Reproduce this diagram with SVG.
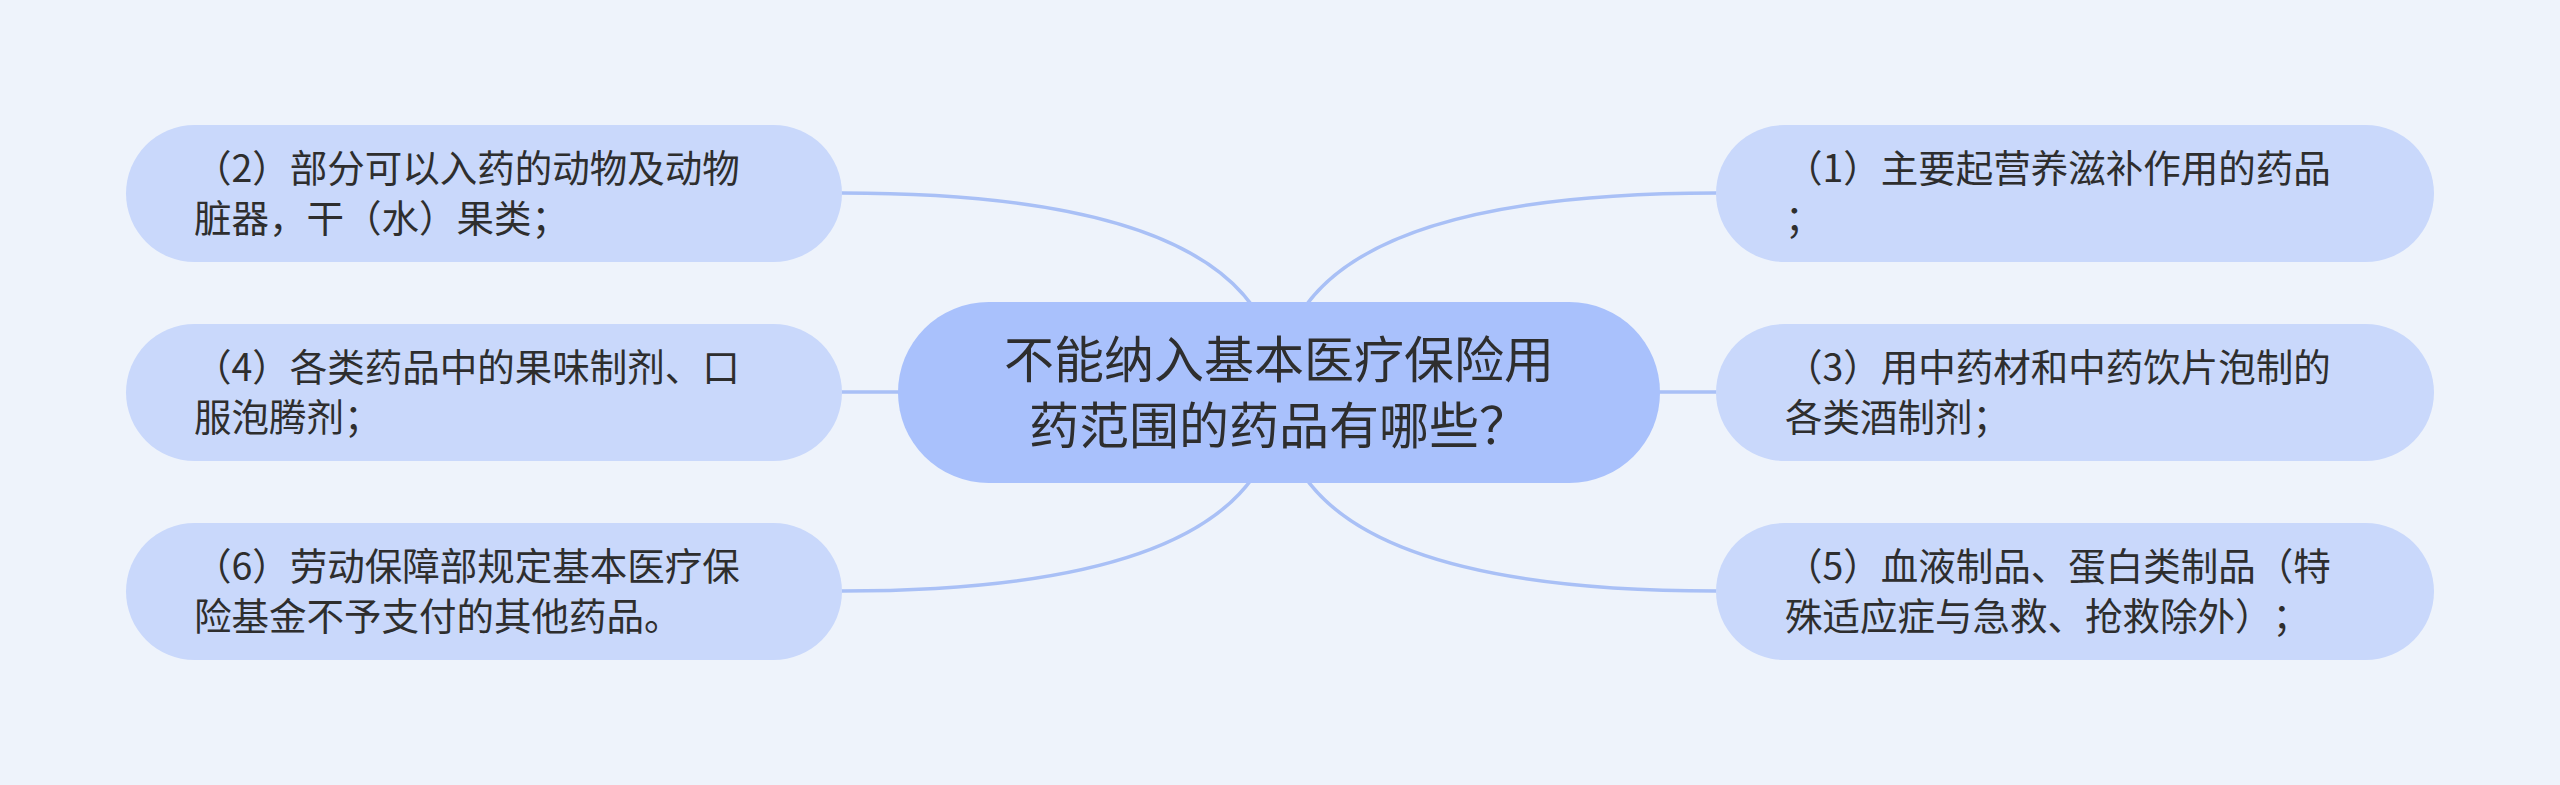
<svg xmlns="http://www.w3.org/2000/svg" width="2560" height="785" viewBox="0 0 2560 785">
  <style>
    .bg { fill: #EEF3FB; }
    .link { fill: none; stroke: #A9C0F6; stroke-width: 3.5; stroke-linecap: round; }
    .root { fill: #A9C1FC; }
    .child { fill: #C9D8FB; }
    text { text-spacing-trim: space-all; font-feature-settings: "halt" 0, "chws" 0; }
    .rootText { font-family: "Noto Sans CJK SC", "Noto Sans", sans-serif; font-size: 50px; fill: #2E2E2E; text-anchor: middle; }
    .childText { font-family: "Noto Sans CJK SC", "Noto Sans", sans-serif; font-size: 37.5px; fill: #2E2E2E; }
  </style>
  <rect class="bg" x="0" y="0" width="2560" height="785"/>

  <g id="connectors">
    <path class="link" d="M1279 392 Q1279 193 842 193"/>
    <path class="link" d="M1279 392 L842 392"/>
    <path class="link" d="M1279 392 Q1279 591 842 591"/>
    <path class="link" d="M1279 392 Q1279 193 1716 193"/>
    <path class="link" d="M1279 392 L1716 392"/>
    <path class="link" d="M1279 392 Q1279 591 1716 591"/>
  </g>

  <g id="root">
    <rect class="root" x="898" y="302" width="762" height="181" rx="90.5" ry="90.5"/>
    <text class="rootText" x="1279" y="378">不能纳入基本医疗保险用</text>
    <text class="rootText" x="1279" y="444">药范围的药品有哪些？</text>
  </g>

  <g id="node2">
    <rect class="child" x="126" y="125" width="716" height="137" rx="68.5" ry="68.5"/>
    <text class="childText" x="194" y="182">（2）部分可以入药的动物及动物</text>
    <text class="childText" x="194" y="232">脏器，干（水）果类；</text>
  </g>

  <g id="node4">
    <rect class="child" x="126" y="324" width="716" height="137" rx="68.5" ry="68.5"/>
    <text class="childText" x="194" y="381">（4）各类药品中的果味制剂、口</text>
    <text class="childText" x="194" y="431">服泡腾剂；</text>
  </g>

  <g id="node6">
    <rect class="child" x="126" y="523" width="716" height="137" rx="68.5" ry="68.5"/>
    <text class="childText" x="194" y="580">（6）劳动保障部规定基本医疗保</text>
    <text class="childText" x="194" y="630">险基金不予支付的其他药品。</text>
  </g>

  <g id="node1">
    <rect class="child" x="1716" y="125" width="718" height="137" rx="68.5" ry="68.5"/>
    <text class="childText" x="1785" y="182">（1）主要起营养滋补作用的药品</text>
    <text class="childText" x="1785" y="232">；</text>
  </g>

  <g id="node3">
    <rect class="child" x="1716" y="324" width="718" height="137" rx="68.5" ry="68.5"/>
    <text class="childText" x="1785" y="381">（3）用中药材和中药饮片泡制的</text>
    <text class="childText" x="1785" y="431">各类酒制剂；</text>
  </g>

  <g id="node5">
    <rect class="child" x="1716" y="523" width="718" height="137" rx="68.5" ry="68.5"/>
    <text class="childText" x="1785" y="580">（5）血液制品、蛋白类制品（特</text>
    <text class="childText" x="1785" y="630">殊适应症与急救、抢救除外）；</text>
  </g>
</svg>
